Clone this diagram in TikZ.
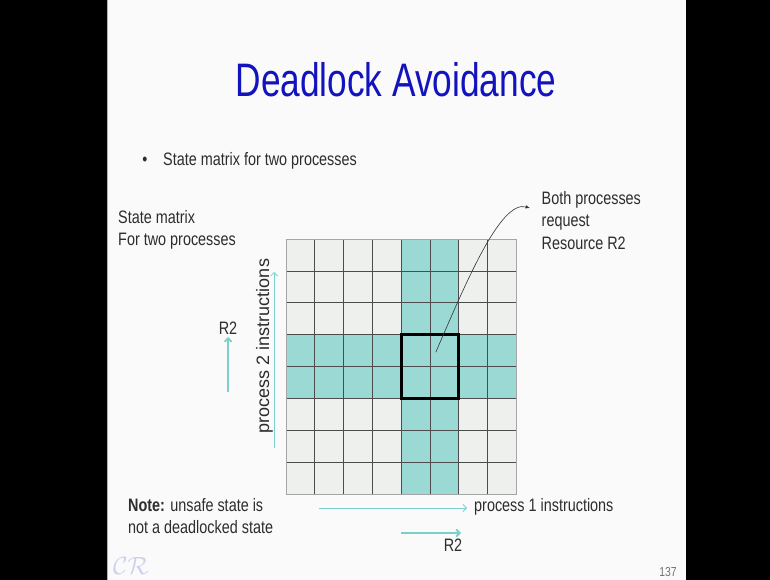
\documentclass[tikz,border=0pt]{standalone}
\usepackage{fontspec}
\setmainfont[FakeStretch=0.8]{Liberation Sans}
\newfontfamily\titlefont[FakeStretch=0.75]{Liberation Sans}
\newfontfamily\uprightfont{Liberation Sans}
\usetikzlibrary{arrows.meta}

\definecolor{titleblue}{RGB}{18,18,190}
\definecolor{slidebg}{RGB}{249,250,249}
\definecolor{slidetext}{RGB}{45,45,45}
\definecolor{cellgray}{RGB}{238,240,238}
\definecolor{unsafe}{RGB}{155,218,212}
\definecolor{arrowteal}{RGB}{125,208,202}
\definecolor{logoblue}{RGB}{205,210,236}

\tikzset{
  slidetxt/.style={font=\fontsize{18}{22.5}\selectfont, text=slidetext, inner sep=0pt},
  tealarrow/.style={draw=arrowteal, -{Straight Barb[length=3.5pt,width=7pt]}},
  gridline/.style={draw=black!70, line width=0.7pt}
}

\begin{document}
\begin{tikzpicture}[x=1pt,y=-1pt]
\useasboundingbox (0,0) rectangle (770,580);
\fill[black] (0,0) rectangle (770,580);
\fill[slidebg] (107,0) rectangle (686,580);
\draw[gray!60] (107.5,0) -- (107.5,580);

\node[anchor=base, inner sep=0pt, text=titleblue, font=\titlefont\fontsize{47}{50}\selectfont] (title) at (396,97) {Deadlock Avoidance};

\node[slidetxt, anchor=base] (bullet) at (145,165) {\textbullet};
\node[slidetxt, anchor=base west] (point) at (163,165) {State matrix for two processes};

\node[slidetxt, anchor=north west, align=left] (matrixlbl) at (118,210) {State matrix\\For two processes};

% state matrix, 8 x 8 cells
\begin{scope}[shift={(286,239)}, x=28.8pt, y=-31.9pt]
\fill[cellgray] (0,0) rectangle (8,8);
\fill[unsafe] (4,0) rectangle (6,8);
\fill[unsafe] (0,3) rectangle (8,5);
\foreach \i in {1,...,7}{
  \draw[gridline] (\i,0) -- (\i,8);
  \draw[gridline] (0,\i) -- (8,\i);
}
\draw[gray!70, line width=0.8pt] (0,0) rectangle (8,8);
\draw[black, line width=3pt] (4,3) rectangle (6,5);
\coordinate (dl) at (5.2,3.55);
\end{scope}

\node[slidetxt, anchor=north west, align=left] (both) at (541.5,191) {Both processes\\request\\Resource R2};
\coordinate (bothtip) at (530,208);
\draw[black!80, line width=0.6pt, -{Latex[length=4.5pt,width=3.5pt]}] (dl) .. controls (465,285) and (500,200) .. (bothtip);

% process 2 axis
\node[slidetxt, font=\uprightfont\fontsize{18}{22}\selectfont, rotate=90, anchor=base] (ptwo) at (269,346) {process 2 instructions};
\coordinate (ptwo-s) at (274,448);
\coordinate (ptwo-e) at (274,272);
\draw[tealarrow, line width=0.8pt] (ptwo-s) -- (ptwo-e);

\node[slidetxt, anchor=base] (rtwoa) at (228,334) {R2};
\coordinate (rtwoa-s) at (228,392);
\coordinate (rtwoa-e) at (228,337);
\draw[tealarrow, line width=1.8pt] (rtwoa-s) -- (rtwoa-e);

% process 1 axis
\node[slidetxt, anchor=base west] (pone) at (474,511) {process 1 instructions};
\coordinate (pone-s) at (319,508);
\coordinate (pone-e) at (467,508);
\draw[tealarrow, line width=0.8pt] (pone-s) -- (pone-e);

\node[slidetxt, anchor=base] (rtwob) at (453,551) {R2};
\coordinate (rtwob-s) at (401,533);
\coordinate (rtwob-e) at (461,533);
\draw[tealarrow, line width=1.8pt] (rtwob-s) -- (rtwob-e);

\node[slidetxt, anchor=north west, align=left] (note) at (128,498) {\textbf{Note:} unsafe state is\\not a deadlocked state};

\node[inner sep=0pt, text=logoblue, font=\fontsize{30}{30}\selectfont] (logo) at (131,566) {$\mathcal{CR}$};
\node[inner sep=0pt, anchor=base, text=black!55, font=\fontsize{13}{13}\selectfont] (page) at (668,576) {137};
\end{tikzpicture}
\end{document}
